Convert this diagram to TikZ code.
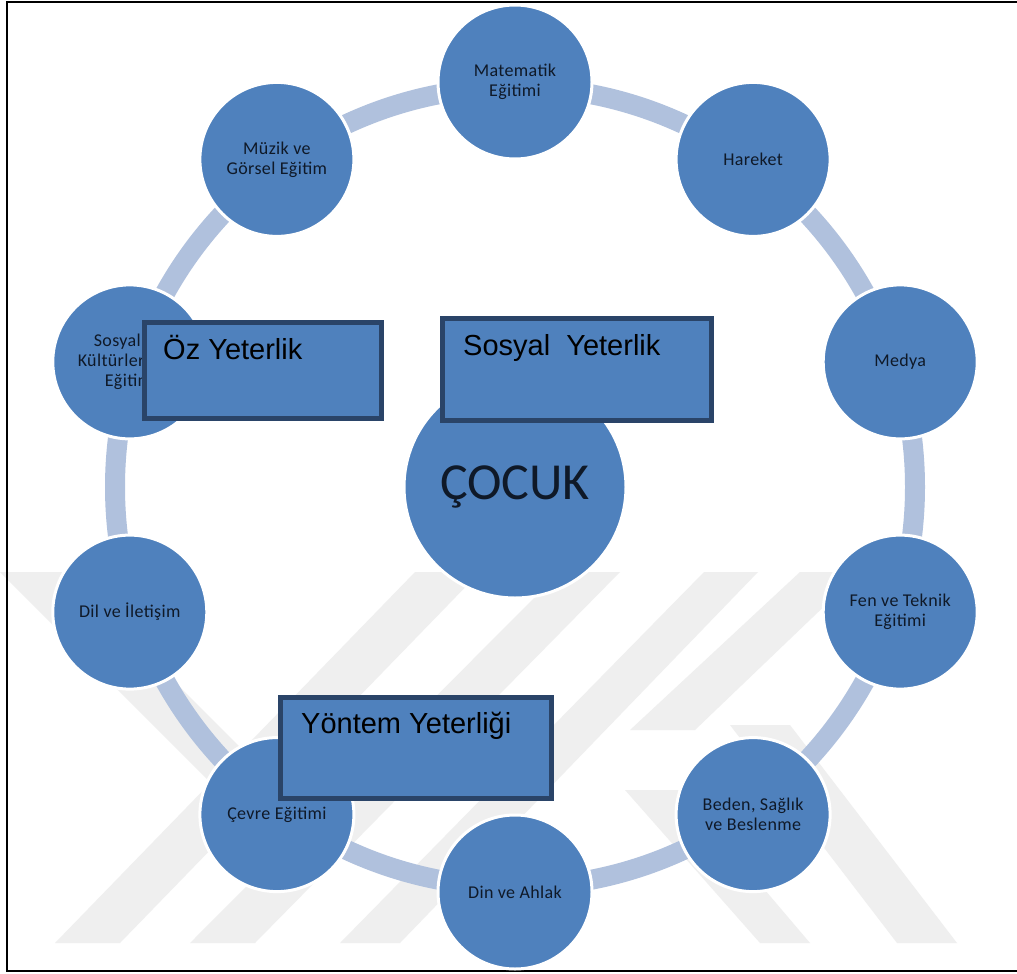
\documentclass[tikz,border=0pt]{standalone}
\usepackage{fontspec}
\setmainfont{Carlito}
\newfontfamily\topicfont[LetterSpace=2]{Carlito}
\newfontfamily\arialf{Liberation Sans}
\definecolor{nodeblue}{HTML}{4F81BD}
\definecolor{ringblue}{RGB}{176,193,221}
\definecolor{rectborder}{HTML}{2A4468}
\definecolor{wm}{RGB}{239,239,239}
\definecolor{ntext}{RGB}{15,25,40}
\begin{document}
\begin{tikzpicture}[x=1pt,y=-1pt,
  topic/.style={circle, fill=nodeblue, draw=white, line width=3pt, minimum size=154pt,
    inner sep=0pt, align=center, text=ntext, font=\topicfont\fontsize{18}{20}\selectfont},
  core/.style={topic, minimum size=222pt, font=\fontsize{52}{56}\selectfont},
  comp/.style={draw=rectborder, fill=nodeblue, line width=5pt, anchor=north west,
    inner sep=0pt},
  comptext/.style={anchor=base west, inner sep=0pt, text=black,
    font=\arialf\fontsize{29}{32}\selectfont},
  ring/.style={draw=ringblue, line width=20pt},
  wmark/.style={fill=wm},
  frame/.style={draw=black, line width=2.5pt}]
\useasboundingbox (0,0) rectangle (1017,974);
\fill[white] (0,0) rectangle (1017,974);
% watermark
\fill[wmark] (0,572) -- (65,572) -- (300,807) -- (235,807) -- cycle;
\fill[wmark] (55,943) -- (120,943) -- (480,572) -- (415,572) -- cycle;
\fill[wmark] (190,943) -- (255,943) -- (620,572) -- (560,572) -- cycle;
\fill[wmark] (340,943) -- (400,943) -- (758,572) -- (704,572) -- cycle;
\fill[wmark] (630,730) -- (695,730) -- (860,572) -- (800,572) -- cycle;
\fill[wmark] (730,725) -- (790,725) -- (957,943) -- (897,943) -- cycle;
\fill[wmark] (625,790) -- (680,790) -- (810,943) -- (760,943) -- cycle;
% frame
\draw[frame] (7,2) rectangle (1030,971);
% ring
\coordinate (o) at (515,487);
\draw[ring] (o) circle[radius=400];
% centre
\node[core] (cocuk) at (o) {ÇOCUK};
% topics
\node[topic] (mat) at (515,82) {Matematik\\Eğitimi};
\node[topic] (har) at (753.1,159.4) {Hareket};
\node[topic] (med) at (900.2,361.9) {Medya};
\node[topic] (fen) at (900.2,612.1) {Fen ve Teknik\\Eğitimi};
\node[topic] (bed) at (753.1,814.6) {Beden, Sağlık\\ve Beslenme};
\node[topic] (din) at (515,892) {Din ve Ahlak};
\node[topic] (cev) at (276.9,814.6) {Çevre Eğitimi};
\node[topic] (dil) at (129.8,612.1) {Dil ve İletişim};
\node[topic] (sos) at (129.8,361.9) {\makebox[104pt][l]{\hspace*{16pt}Sosyal}\\
  \makebox[104pt][l]{Kültürler}\\\makebox[104pt][l]{\hspace*{27pt}Eğitimi}};
\node[topic] (muz) at (276.9,159.4) {Müzik ve\\Görsel Eğitim};
% competence boxes
\node[comp, minimum width=237pt, minimum height=96pt] (oz) at (141.5,319.5) {};
\node[comptext, xshift=21.5pt, yshift=-39.5pt] (ozt) at (oz.north west) {Öz Yeterlik};
\node[comp, minimum width=269pt, minimum height=102pt] (sy) at (439.5,315.5) {};
\node[comptext, xshift=23.5pt, yshift=-39.5pt] (syt) at (sy.north west) {Sosyal\ \ Yeterlik};
\node[comp, minimum width=271pt, minimum height=101pt] (yy) at (277.5,694.5) {};
\node[comptext, xshift=23.5pt, yshift=-38.5pt] (yyt) at (yy.north west) {Yöntem Yeterliği};
\end{tikzpicture}
\end{document}
